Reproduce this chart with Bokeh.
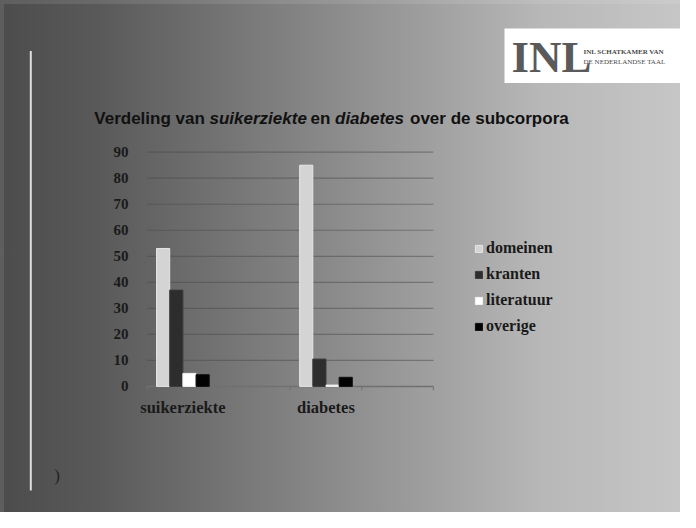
from bokeh.plotting import figure
from bokeh.models import (ColumnDataSource, Range1d, Legend, LegendItem,
                          Label, BoxAnnotation, FixedTicker)
from bokeh.transform import dodge
from bokeh.embed import file_html
from bokeh.resources import INLINE

# ---- data ----
categories = ["suikerziekte", "diabetes"]
series = ["domeinen", "kranten", "literatuur", "overige"]
domeinen = [53, 85]
kranten = [37, 10.5]
literatuur = [5, 0.5]
overige = [4.5, 3.5]
y_ticks = [0, 10, 20, 30, 40, 50, 60, 70, 80, 90]

colors = ["#d4d4d4", "#2d2d2d", "#ffffff", "#030303"]
lines = ["#e6e6e6", "#3a3a3a", "#f2f2f2", "#111111"]

# Excel layout: every category followed by an empty slot
n_slots = 2 * len(categories)
cat_pos = [2 * i + 0.5 for i in range(len(categories))]

src = ColumnDataSource(dict(x=cat_pos, domeinen=domeinen, kranten=kranten,
                            literatuur=literatuur, overige=overige))

# ---- layout (pixels) ----
W, H = 680, 512
SLOT0_PX, SLOTN_PX = 146.6, 432.8          # chart area left / right
ZERO_PX, TOP90_PX = 385.9, 151.7            # y of value 0 and 90 (from top)
slot_w = (SLOTN_PX - SLOT0_PX) / n_slots
px_per_unit = (ZERO_PX - TOP90_PX) / 90.0
x0 = -SLOT0_PX / slot_w
x1 = (W - SLOT0_PX) / slot_w
y0 = -(H - ZERO_PX) / px_per_unit
y1 = ZERO_PX / px_per_unit

p = figure(width=W, height=H, x_range=Range1d(x0, x1), y_range=Range1d(y0, y1),
           output_backend="svg", toolbar_location=None,
           min_border_left=0, min_border_right=0, min_border_top=0, min_border_bottom=0)
p.background_fill_alpha = 0
p.border_fill_alpha = 0
p.outline_line_color = None
p.styles = {"background": "linear-gradient(to right, #4c4c4c 0%, #5a5a5a 15%, "
                          "#8c8c8c 50%, #b8b8b8 80%, #c6c6c6 100%)",
            "box-shadow": "inset 4px 4px 0 0 rgba(255,255,255,0.10)"}
p.xgrid.visible = False
p.ygrid.visible = False

# gridlines across the chart area only
grid_y = y_ticks[1:]
p.segment(x0=[0] * len(grid_y), x1=[n_slots] * len(grid_y), y0=grid_y, y1=grid_y,
          line_color="#4a4a4a", line_alpha=0.5, line_width=1.2)
# category axis baseline and slot tick marks
p.segment(x0=[0], x1=[n_slots], y0=[0], y1=[0], line_color="#707070", line_width=1.5)
tick_len = 4 / px_per_unit
p.segment(x0=list(range(n_slots + 1)), x1=list(range(n_slots + 1)),
          y0=[0] * (n_slots + 1), y1=[-tick_len] * (n_slots + 1),
          line_color="#707070", line_width=1)

bw = 0.184
renderers = []
for i, (s, c, lc) in enumerate(zip(series, colors, lines)):
    r = p.vbar(x=dodge("x", (i - 1.5) * bw, range=p.x_range), top=s, width=bw,
               source=src, fill_color=c, line_color=lc, line_width=1)
    renderers.append(r)

# y axis: labels pulled into the canvas next to the chart area
p.yaxis.ticker = FixedTicker(ticks=y_ticks)
p.yaxis.axis_line_color = None
p.yaxis.major_tick_line_color = None
p.yaxis.minor_tick_line_color = None
p.yaxis.major_tick_out = 0
p.yaxis.major_tick_in = 0
p.yaxis.major_label_standoff = -128
p.yaxis.major_label_text_font = "Liberation Serif"
p.yaxis.major_label_text_font_style = "bold"
p.yaxis.major_label_text_font_size = "15px"
p.yaxis.major_label_text_color = "#1a1a1a"

# x axis: category names under the bars
p.xaxis.ticker = FixedTicker(ticks=cat_pos)
p.xaxis.major_label_overrides = {pos: name for pos, name in zip(cat_pos, categories)}
p.xaxis.axis_line_color = None
p.xaxis.major_tick_line_color = None
p.xaxis.minor_tick_line_color = None
p.xaxis.major_tick_out = 0
p.xaxis.major_tick_in = 0
p.xaxis.major_label_standoff = -115
p.xaxis.major_label_text_font = "Liberation Serif"
p.xaxis.major_label_text_font_style = "bold"
p.xaxis.major_label_text_font_size = "16.5px"
p.xaxis.major_label_text_color = "#1a1a1a"

# legend
legend = Legend(items=[LegendItem(label=s, renderers=[r]) for s, r in zip(series, renderers)],
                location=(474, 176), orientation="vertical",
                glyph_width=9, glyph_height=9, label_height=20, spacing=6,
                padding=0, margin=0, label_standoff=3,
                background_fill_alpha=0, border_line_alpha=0,
                label_text_font="Liberation Serif", label_text_font_style="bold",
                label_text_font_size="16px", label_text_color="#1a1a1a")
p.add_layout(legend, "center")

# title (mixed roman / italic)
title_parts = [("Verdeling van", "bold", 93.8), ("suikerziekte", "bold italic", 209),
               ("en", "bold", 310), ("diabetes", "bold italic", 334.5),
               ("over de subcorpora", "bold", 409.5)]
for txt, style, xx in title_parts:
    p.add_layout(Label(x=xx, y=H - 118.3, x_units="screen", y_units="screen", text=txt,
                       text_font="Liberation Sans", text_font_style=style,
                       text_font_size="17px", text_color="#111111",
                       text_baseline="middle", text_align="left"))

# slide decorations: vertical rule, logo box, bracket
p.add_layout(BoxAnnotation(left=29.3, right=31.3, bottom=H - 489.9, top=H - 50.4,
                           left_units="screen", right_units="screen",
                           bottom_units="screen", top_units="screen",
                           fill_color="#dedede", fill_alpha=1, line_color=None))
p.add_layout(BoxAnnotation(left=504, right=W + 2, bottom=H - 82.5, top=H - 28.1,
                           left_units="screen", right_units="screen",
                           bottom_units="screen", top_units="screen",
                           fill_color="#ffffff", fill_alpha=1, line_color=None))
p.add_layout(Label(x=511, y=H - 56.5, x_units="screen", y_units="screen", text="INL",
                   text_font="Liberation Serif", text_font_style="bold",
                   text_font_size="45px", text_color="#5a5a5a",
                   text_baseline="middle", text_align="left"))
p.add_layout(Label(x=583, y=H - 51.4, x_units="screen", y_units="screen",
                   text="INL SCHATKAMER VAN", text_font="Liberation Serif",
                   text_font_style="bold", text_font_size="7px", text_color="#4a4a4a",
                   text_baseline="middle", text_align="left"))
p.add_layout(Label(x=583, y=H - 61, x_units="screen", y_units="screen",
                   text="DE NEDERLANDSE TAAL", text_font="Liberation Serif",
                   text_font_size="7px", text_color="#4a4a4a",
                   text_baseline="middle", text_align="left"))
p.add_layout(Label(x=54, y=H - 475.3, x_units="screen", y_units="screen", text=")",
                   text_font="Liberation Serif", text_font_size="16px",
                   text_color="#1e1e1e", text_baseline="middle", text_align="left"))

open("out.html", "w").write(file_html(p, INLINE))
